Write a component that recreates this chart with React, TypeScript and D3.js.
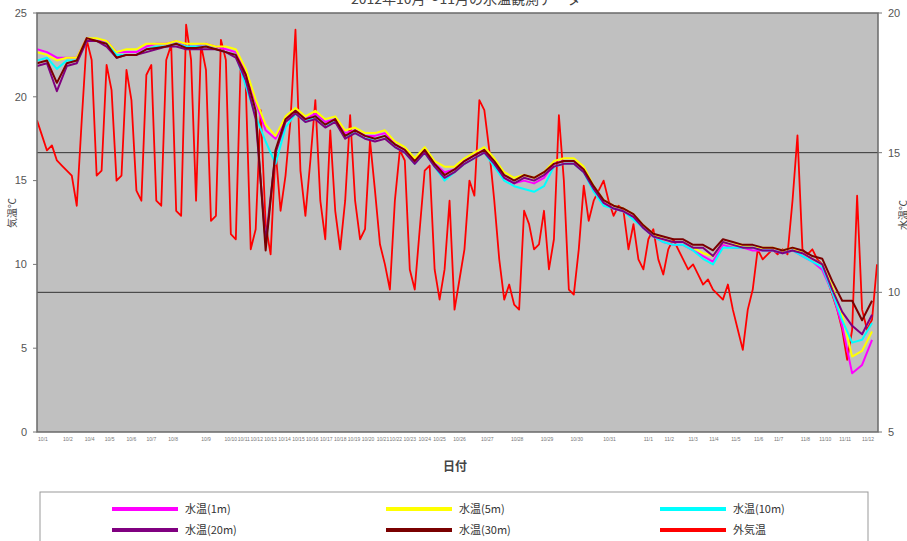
import React, { useEffect, useRef } from "react";
import * as d3 from "d3";

// outside air temperature (left axis), sampled at twice the density of the water series
const airTemp = [
  18.6, 17.7, 16.8, 17.1, 16.2, 15.9, 15.6, 15.3, 13.5, 18.6,
  23.4, 22.2, 15.3, 15.6, 21.9, 20.4, 15.0, 15.3, 21.6, 19.8,
  14.4, 13.8, 21.3, 21.9, 13.8, 13.5, 22.2, 23.1, 13.2, 12.9,
  24.3, 22.2, 13.8, 23.1, 21.6, 12.6, 12.9, 23.4, 22.2, 11.8,
  11.5, 22.2, 20.7, 10.9, 12.1, 19.2, 12.4, 10.6, 16.8, 13.2,
  15.3, 18.6, 24.0, 15.6, 12.9, 16.2, 19.8, 13.8, 11.5, 18.0,
  13.2, 10.9, 13.8, 18.9, 13.8, 11.5, 12.1, 17.4, 14.4, 11.2,
  10.0, 8.5, 13.8, 16.8, 16.2, 9.7, 8.5, 12.1, 15.6, 15.9,
  9.7, 7.9, 9.7, 13.8, 7.3, 9.1, 10.9, 15.0, 14.1, 19.8,
  19.2, 16.8, 13.8, 10.3, 7.9, 8.8, 7.6, 7.3, 13.2, 12.4,
  10.9, 11.2, 13.2, 9.7, 11.5, 18.9, 15.0, 8.5, 8.2, 10.9,
  14.7, 12.6, 13.8, 14.4, 15.0, 13.8, 12.9, 13.5, 13.2, 10.9,
  12.4, 10.3, 9.7, 11.5, 12.1, 10.3, 9.4, 10.9, 11.5, 10.9,
  10.3, 9.7, 10.0, 9.4, 8.8, 9.1, 8.5, 8.2, 7.9, 8.8,
  7.3, 6.1, 4.9, 7.3, 8.5, 10.9, 10.3, 10.6, 10.9, 10.6,
  10.9, 10.6, 13.8, 17.7, 10.9, 10.6, 10.9, 10.3, 10.0, 9.1,
  8.2, 7.3, 6.1, 4.3, 6.1, 14.1, 7.3, 6.1, 6.7, 10.0,
];

// water temperatures (right axis)
const water1m = [
  18.7, 18.6, 18.4, 18.4, 18.4, 19.1, 19.0, 19.0, 18.6, 18.6,
  18.6, 18.8, 18.9, 18.9, 19.0, 18.8, 18.8, 18.9, 18.8, 18.7,
  18.6, 17.9, 16.8, 15.8, 15.5, 16.2, 16.5, 16.2, 16.4, 16.1,
  16.2, 15.7, 15.8, 15.6, 15.6, 15.7, 15.3, 15.1, 14.7, 15.1,
  14.6, 14.3, 14.4, 14.7, 14.9, 15.1, 14.6, 14.1, 13.9, 14.0,
  13.9, 14.1, 14.6, 14.7, 14.7, 14.4, 13.7, 13.2, 13.0, 12.9,
  12.7, 12.3, 12.0, 11.8, 11.7, 11.7, 11.5, 11.3, 11.1, 11.7,
  11.6, 11.6, 11.5, 11.5, 11.5, 11.4, 11.5, 11.3, 11.1, 10.8,
  10.0, 8.8, 7.1, 7.4, 8.3,
];
const water5m = [
  18.6, 18.5, 18.3, 18.4, 18.4, 19.1, 19.1, 19.0, 18.6, 18.7,
  18.7, 18.9, 18.9, 18.9, 19.0, 18.9, 18.9, 18.9, 18.8, 18.8,
  18.7, 18.0, 16.9, 16.0, 15.6, 16.3, 16.6, 16.3, 16.5, 16.2,
  16.3, 15.8, 15.9, 15.7, 15.7, 15.8, 15.4, 15.2, 14.8, 15.2,
  14.7, 14.5, 14.5, 14.8, 15.0, 15.2, 14.8, 14.3, 14.1, 14.2,
  14.1, 14.3, 14.7, 14.8, 14.8, 14.5, 13.8, 13.3, 13.1, 13.0,
  12.8, 12.4, 12.1, 11.9, 11.8, 11.8, 11.6, 11.4, 11.3, 11.8,
  11.7, 11.7, 11.6, 11.6, 11.6, 11.5, 11.6, 11.4, 11.2, 11.0,
  10.2, 9.2, 7.7, 7.9, 8.6,
];
const water10m = [
  18.3, 18.4, 18.0, 18.3, 18.3, 19.0, 19.0, 18.9, 18.5, 18.5,
  18.5, 18.7, 18.8, 18.8, 18.9, 18.8, 18.8, 18.8, 18.7, 18.6,
  18.5, 17.4, 16.3, 15.4, 14.6, 15.9, 16.4, 16.1, 16.3, 16.0,
  16.1, 15.6, 15.7, 15.5, 15.5, 15.6, 15.2, 15.0, 14.6, 15.0,
  14.5, 14.0, 14.3, 14.6, 14.8, 15.0, 14.5, 14.0, 13.8, 13.7,
  13.6, 13.8, 14.5, 14.6, 14.6, 14.3, 13.6, 13.1, 13.0, 12.9,
  12.6, 12.3, 12.0, 11.8, 11.7, 11.7, 11.5, 11.2, 11.0, 11.6,
  11.6, 11.6, 11.6, 11.5, 11.5, 11.4, 11.5, 11.3, 11.1, 10.9,
  10.0, 9.0, 8.2, 8.3, 8.9,
];
const water20m = [
  18.1, 18.2, 17.2, 18.1, 18.2, 19.0, 19.0, 18.8, 18.4, 18.5,
  18.5, 18.6, 18.7, 18.8, 18.8, 18.7, 18.7, 18.7, 18.7, 18.6,
  18.4, 17.6, 16.2, 11.8, 15.0, 16.1, 16.4, 16.1, 16.2, 15.9,
  16.1, 15.5, 15.7, 15.5, 15.4, 15.5, 15.2, 15.0, 14.6, 15.0,
  14.5, 14.1, 14.3, 14.6, 14.8, 15.0, 14.6, 14.1, 13.9, 14.1,
  14.0, 14.2, 14.5, 14.6, 14.6, 14.3, 13.7, 13.2, 13.0, 12.9,
  12.7, 12.3, 12.0, 11.9, 11.8, 11.8, 11.6, 11.6, 11.3, 11.8,
  11.7, 11.6, 11.6, 11.5, 11.5, 11.4, 11.5, 11.4, 11.2, 11.0,
  10.1, 9.3, 8.8, 8.5, 9.2,
];
const water30m = [
  18.2, 18.3, 17.5, 18.2, 18.3, 19.1, 19.0, 18.9, 18.4, 18.5,
  18.5, 18.7, 18.75, 18.8, 18.9, 18.75, 18.75, 18.8, 18.7, 18.6,
  18.5, 17.8, 16.5, 11.5, 15.1, 16.2, 16.5, 16.2, 16.3, 16.0,
  16.2, 15.6, 15.8, 15.6, 15.5, 15.6, 15.3, 15.1, 14.7, 15.1,
  14.6, 14.2, 14.4, 14.7, 14.9, 15.1, 14.7, 14.2, 14.0, 14.2,
  14.1, 14.3, 14.6, 14.7, 14.7, 14.4, 13.8, 13.3, 13.1, 13.0,
  12.8, 12.4, 12.1, 12.0, 11.9, 11.9, 11.7, 11.7, 11.5, 11.9,
  11.8, 11.7, 11.7, 11.6, 11.6, 11.5, 11.6, 11.5, 11.3, 11.2,
  10.4, 9.7, 9.7, 9.0, 9.7,
];

const tickLabels = [
  "10/1", "10/2", "10/4", "10/5", "10/6", "10/7", "10/8", "10/9", "10/10", "10/11",
  "10/12", "10/13", "10/14", "10/15", "10/16", "10/17", "10/18", "10/19", "10/20", "10/21",
  "10/22", "10/23", "10/24", "10/25", "10/26", "10/27", "10/28", "10/29", "10/30", "10/31",
  "11/1", "11/2", "11/3", "11/4", "11/5", "11/6", "11/7", "11/8", "11/10", "11/11", "11/12",
];
// sample index (of airTemp) at which each label sits
const tickIndex = [
  1.2, 6.2, 10.6, 14.6, 19, 23, 27.4, 34, 39, 41.6,
  44.2, 47, 49.8, 52.6, 55.4, 58.2, 61, 63.8, 66.6, 69.6,
  72.2, 75, 78, 81, 85, 90.6, 96.6, 102.6, 108.6, 115.2,
  123, 127.2, 132, 136.2, 140.6, 145.2, 149.2, 154.6, 158.6, 162.6, 167.2,
];

const leftTicks = [0, 5, 10, 15, 20, 25];
const rightTicks = [5, 10, 15, 20];
const seriesNames = ["水温(1m)", "水温(5m)", "水温(10m)", "水温(20m)", "水温(30m)", "外気温"];
const seriesColors = ["#ff00ff", "#ffff00", "#00ffff", "#800080", "#7a0000", "#ff0000"];

export default function App() {
  const ref = useRef(null);

  useEffect(() => {
    const width = 907;
    const height = 541;
    const margin = { top: 13, right: 29, bottom: 109, left: 37 };
    const font = "'Liberation Sans', 'Noto Sans CJK JP', sans-serif";

    const x = d3
      .scaleLinear()
      .domain([0, airTemp.length - 1])
      .range([margin.left, width - margin.right - 1]);
    const yLeft = d3
      .scaleLinear()
      .domain([0, 25])
      .range([height - margin.bottom, margin.top]);
    const yRight = d3
      .scaleLinear()
      .domain([5, 20])
      .range([height - margin.bottom, margin.top]);

    const svg = d3
      .select(ref.current)
      .append("svg")
      .attr("width", width)
      .attr("height", height)
      .style("display", "block")
      .style("font-family", font);

    svg.append("rect").attr("width", width).attr("height", height).attr("fill", "#fff");

    // title, mostly cut off at the top
    svg
      .append("text")
      .attr("x", 466)
      .attr("y", 4)
      .attr("text-anchor", "middle")
      .attr("font-size", 14)
      .attr("fill", "#444")
      .style("font-family", "'Noto Sans CJK JP', sans-serif")
      .text("2012年10月～11月の水温観測データ");

    const plotW = width - margin.left - margin.right;
    const plotH = height - margin.top - margin.bottom;

    svg
      .append("rect")
      .attr("x", margin.left)
      .attr("y", margin.top)
      .attr("width", plotW)
      .attr("height", plotH)
      .attr("fill", "#c0c0c0");

    // grid lines from the secondary axis
    svg
      .append("g")
      .selectAll("line")
      .data(rightTicks.slice(1, -1))
      .join("line")
      .attr("x1", margin.left)
      .attr("x2", margin.left + plotW)
      .attr("y1", (d) => yRight(d))
      .attr("y2", (d) => yRight(d))
      .attr("stroke", "#333")
      .attr("stroke-width", 1);

    const clip = svg
      .append("clipPath")
      .attr("id", "plotclip")
      .append("rect")
      .attr("x", margin.left)
      .attr("y", margin.top)
      .attr("width", plotW)
      .attr("height", plotH);

    const lines = svg.append("g").attr("clip-path", "url(#plotclip)");

    const airLine = d3
      .line()
      .x((d, i) => x(i))
      .y((d) => yLeft(d));
    const waterLine = d3
      .line()
      .x((d, i) => x(i * 2))
      .y((d) => yRight(d));

    lines
      .append("path")
      .datum(airTemp)
      .attr("fill", "none")
      .attr("stroke", seriesColors[5])
      .attr("stroke-width", 1.8)
      .attr("stroke-linejoin", "round")
      .attr("d", airLine);

    [water1m, water5m, water10m, water20m, water30m].forEach((s, k) => {
      lines
        .append("path")
        .datum(s)
        .attr("fill", "none")
        .attr("stroke", seriesColors[k])
        .attr("stroke-width", 2)
        .attr("stroke-linejoin", "round")
        .attr("d", waterLine);
    });

    // frame
    svg
      .append("rect")
      .attr("x", margin.left)
      .attr("y", margin.top)
      .attr("width", plotW)
      .attr("height", plotH)
      .attr("fill", "none")
      .attr("stroke", "#6a6a6a")
      .attr("stroke-width", 1.5);

    // left axis
    const gl = svg.append("g");
    gl.selectAll("line")
      .data(leftTicks)
      .join("line")
      .attr("x1", margin.left - 4)
      .attr("x2", margin.left)
      .attr("y1", (d) => yLeft(d))
      .attr("y2", (d) => yLeft(d))
      .attr("stroke", "#777");
    gl.selectAll("text")
      .data(leftTicks)
      .join("text")
      .attr("x", 27)
      .attr("y", (d) => yLeft(d))
      .attr("dy", "0.35em")
      .attr("text-anchor", "end")
      .attr("font-size", 11)
      .attr("fill", "#555")
      .text((d) => d);

    // right axis
    const gr = svg.append("g");
    gr.selectAll("line")
      .data(rightTicks)
      .join("line")
      .attr("x1", margin.left + plotW)
      .attr("x2", margin.left + plotW + 4)
      .attr("y1", (d) => yRight(d))
      .attr("y2", (d) => yRight(d))
      .attr("stroke", "#777");
    gr.selectAll("text")
      .data(rightTicks)
      .join("text")
      .attr("x", 888)
      .attr("y", (d) => yRight(d))
      .attr("dy", "0.35em")
      .attr("font-size", 11)
      .attr("fill", "#555")
      .text((d) => d);

    // x tick labels
    svg
      .append("g")
      .selectAll("text")
      .data(tickLabels)
      .join("text")
      .attr("x", (d, i) => x(tickIndex[i]))
      .attr("y", height - margin.bottom + 9)
      .attr("text-anchor", "middle")
      .attr("font-size", 5)
      .attr("fill", "#777")
      .text((d) => d);

    // axis titles
    svg
      .append("text")
      .attr("transform", "translate(16,213) rotate(-90)")
      .attr("text-anchor", "middle")
      .attr("font-size", 10)
      .attr("fill", "#444")
      .style("font-family", "'Noto Sans CJK JP', sans-serif")
      .text("気温℃");
    svg
      .append("text")
      .attr("transform", "translate(907,215) rotate(-90)")
      .attr("text-anchor", "middle")
      .attr("font-size", 10)
      .attr("fill", "#444")
      .style("font-family", "'Noto Sans CJK JP', sans-serif")
      .text("水温℃");
    svg
      .append("text")
      .attr("x", 455)
      .attr("y", 471)
      .attr("text-anchor", "middle")
      .attr("font-size", 12)
      .attr("font-weight", "bold")
      .attr("fill", "#444")
      .style("font-family", "'Noto Sans CJK JP', sans-serif")
      .text("日付");

    // legend
    const lg = svg.append("g");
    lg.append("rect")
      .attr("x", 40)
      .attr("y", 492)
      .attr("width", 828)
      .attr("height", 60)
      .attr("fill", "#fff")
      .attr("stroke", "#999");
    const colX = [112, 386, 660];
    const rowY = [509, 530];
    seriesNames.forEach((name, k) => {
      const cx = colX[k % 3];
      const cy = rowY[Math.floor(k / 3)];
      lg.append("line")
        .attr("x1", cx)
        .attr("x2", cx + 66)
        .attr("y1", cy)
        .attr("y2", cy)
        .attr("stroke", seriesColors[k])
        .attr("stroke-width", 4);
      lg.append("text")
        .attr("x", cx + 73)
        .attr("y", cy)
        .attr("dy", "0.35em")
        .attr("font-size", 11)
        .attr("fill", "#333")
        .style("font-family", "'Noto Sans CJK JP', sans-serif")
        .text(name);
    });

    return () => {
      d3.select(ref.current).selectAll("*").remove();
    };
  }, []);

  return (
    <div
      ref={ref}
      style={{ position: "absolute", left: 0, top: 0, width: 907, height: 541 }}
    ></div>
  );
}
